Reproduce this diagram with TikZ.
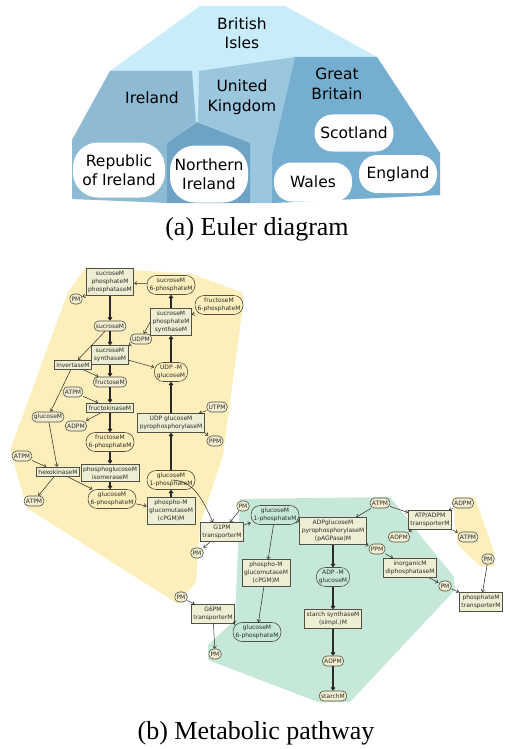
\documentclass[tikz,border=0pt]{standalone}
\usepackage{fontspec}
\setmainfont{Liberation Serif}
\newfontfamily\eulerfont{DejaVu Sans}
\newfontfamily\pathfont{DejaVu Sans}
\usepackage{tikz}
\usetikzlibrary{arrows.meta,calc}
\definecolor{isles}{RGB}{200,236,250}
\definecolor{ireland}{RGB}{143,186,212}
\definecolor{kingdom}{RGB}{155,199,222}
\definecolor{northirl}{RGB}{110,163,196}
\definecolor{britain}{RGB}{117,174,206}
\definecolor{cytosol}{RGB}{252,239,187}
\definecolor{plastid}{RGB}{198,232,216}
\definecolor{boxfill}{RGB}{238,238,212}
\definecolor{pillfill}{RGB}{243,238,210}
\definecolor{boxline}{RGB}{80,80,68}
\definecolor{flowline}{RGB}{40,40,40}
\definecolor{labeltext}{RGB}{45,45,40}
\tikzset{
  setbox/.style={fill=white, align=center, inner sep=0pt,
    font=\eulerfont\fontsize{15.5}{19.5}\selectfont},
  setlabel/.style={align=center, inner sep=0pt,
    font=\eulerfont\fontsize{15.5}{19.5}\selectfont},
  enzymebox/.style={draw=boxline, fill=boxfill, line width=0.75pt,
    inner xsep=2pt, inner ysep=2.5pt, align=center, text=labeltext,
    font=\pathfont\fontsize{6}{8}\selectfont},
  metabolite/.style={draw=boxline, line width=0.6pt, rounded corners=9pt,
    minimum height=19pt, inner xsep=2.5pt, inner ysep=2pt, align=center,
    text=labeltext, font=\pathfont\fontsize{6}{8}\selectfont},
  smallmet/.style={draw=boxline, fill=pillfill, line width=0.6pt,
    rounded corners=4.5pt, minimum height=10pt, minimum width=10.5pt,
    inner xsep=1.8pt, inner ysep=0.5pt, text=labeltext,
    font=\pathfont\fontsize{6}{8}\selectfont},
  mainflow/.style={-{Straight Barb[length=2.4pt,width=3.8pt]}, line width=1.1pt, draw=flowline},
  sideflow/.style={-{Straight Barb[length=2.4pt,width=3.8pt]}, line width=0.5pt, draw=flowline},
  caption/.style={font=\fontsize{26}{30}\selectfont}
}

\begin{document}
\begin{tikzpicture}[x=1pt,y=-1pt]
\useasboundingbox (0,0) rectangle (509,749);

% (a) Euler diagram
\fill[isles] (110,71) -- (200,6) -- (285,6) -- (377,57) -- (440,153) -- (440,195)
  -- (272,203) -- (72,199) -- (72,140) -- cycle;
\fill[ireland] (110,71) -- (192,71) -- (196,122) -- (167,143) -- (167,203)
  -- (72,199) -- (72,140) -- cycle;
\fill[kingdom] (199,71) -- (295,57) -- (272,157) -- (272,203) -- (250,203)
  -- (250,143) -- (198,122) -- cycle;
\fill[northirl] (197,122) -- (167,143) -- (167,203) -- (250,203) -- (250,143) -- cycle;
\fill[britain] (295,57) -- (377,57) -- (440,153) -- (440,195) -- (272,203)
  -- (272,157) -- cycle;

\node[setlabel] (isl) at (242,33) {British\\Isles};
\node[setlabel] (irl) at (152,98) {Ireland};
\node[setlabel] (uk) at (242,97) {United\\Kingdom};
\node[setlabel] (gb) at (337,84) {Great\\Britain};
\node[setbox, rounded corners=25pt, minimum width=92pt, minimum height=55pt] (roi) at (119,170) {Republic\\of Ireland};
\node[setbox, rounded corners=25pt, minimum width=78pt, minimum height=57pt] (ni) at (209,174) {Northern\\Ireland};
\node[setbox, rounded corners=18pt, minimum width=79pt, minimum height=37pt] (sco) at (354,133) {Scotland};
\node[setbox, rounded corners=18pt, minimum width=78pt, minimum height=39pt] (wal) at (313,182) {Wales};
\node[setbox, rounded corners=18pt, minimum width=78pt, minimum height=38pt] (eng) at (398,174) {England};
\node[caption] (capa) at (257,229) {(a) Euler diagram};

% (b) Metabolic pathway
\fill[cytosol] (86,267) -- (192,274) -- (243,293) -- (242,313) -- (223,455) -- (200,525)
  -- (196,582) -- (178,604) -- (27,508) -- (10,450) -- (68,292) -- cycle;
\fill[cytosol] (453,497) -- (475,497) -- (494,552) -- (494,566) -- (480,566)
  -- (458,545) -- (455,525) -- cycle;
\fill[plastid] (240,499) -- (390,497) -- (420,535) -- (454,577) -- (455,590)
  -- (350,702) -- (318,702) -- (208,660) -- (208,645) -- (235,620) -- cycle;

% cytosol
\node[enzymebox] (spp) at (110,282) {sucroseM\\phosphateM\\phosphataseM};
\node[smallmet] (pA) at (76,299) {PM};
\node[metabolite] (s6p) at (171,285) {sucroseM\\6-phosphateM};
\node[metabolite] (f6pa) at (219,305) {fructoseM\\6-phosphateM};
\node[enzymebox] (sps) at (171,322) {sucroseM\\phosphateM\\synthaseM};
\node[smallmet] (suc) at (110,326) {sucroseM};
\node[smallmet] (udp) at (141,339) {UDPM};
\node[enzymebox] (susy) at (110,355) {sucroseM\\synthaseM};
\node[enzymebox] (inv) at (73,365) {invertaseM};
\node[metabolite] (udpg) at (171,372) {UDP -M\\glucoseM};
\node[smallmet] (fru) at (110,382) {fructoseM};
\node[smallmet] (atpA) at (73,392) {ATPM};
\node[enzymebox] (fk) at (110,408) {fructokinaseM};
\node[smallmet] (glc) at (48,417) {glucoseM};
\node[smallmet] (adpA) at (76,426) {ADPM};
\node[smallmet] (utp) at (217,407) {UTPM};
\node[enzymebox] (ugp) at (171,423) {UDP glucoseM\\pyrophosphorylaseM};
\node[smallmet] (ppA) at (215,441) {PPM};
\node[metabolite] (f6p) at (110,442) {fructoseM\\6-phosphateM};
\node[smallmet] (atpB) at (22,456) {ATPM};
\node[enzymebox] (hk) at (58,472) {hexokinaseM};
\node[enzymebox] (pgi) at (110,473) {phosphoglucoseM\\isomeraseM};
\node[metabolite] (g1p) at (171,480) {glucoseM\\1-phosphateM};
\node[smallmet] (atpC) at (34,501) {ATPM};
\node[metabolite] (g6p) at (112,499) {glucoseM\\6-phosphateM};
\node[enzymebox] (pgm) at (171,511) {phospho-M\\glucomutaseM\\(cPGM)M};

% transporters
\node[enzymebox] (g1pT) at (222,532) {G1PM\\transporterM};
\node[smallmet] (pB) at (197,553) {PM};
\node[smallmet] (pC) at (181,597) {PM};
\node[smallmet] (pD) at (243,506) {PM};
\node[enzymebox] (g6pT) at (213,614) {G6PM\\transporterM};
\node[smallmet] (pG) at (215,654) {PM};
\node[enzymebox] (aatT) at (430,520) {ATP/ADPM\\transporterM};
\node[smallmet] (adpB) at (463,503) {ADPM};
\node[smallmet] (atpE) at (468,537) {ATPM};
\node[smallmet] (pE) at (488,559) {PM};
\node[enzymebox] (piT) at (481,602) {phosphateM\\transporterM};

% plastid
\node[metabolite] (g1pP) at (275,515) {glucoseM\\1-phosphateM};
\node[smallmet] (atpD) at (380,503) {ATPM};
\node[enzymebox] (agp) at (333,531) {ADPglucoseM\\pyrophosphorylaseM\\(pAGPase)M};
\node[smallmet] (adpC) at (399,537) {ADPM};
\node[smallmet] (ppB) at (377,549) {PPM};
\node[enzymebox] (pgmP) at (266,573) {phospho-M\\glucomutaseM\\(cPGM)M};
\node[metabolite] (adpg) at (333,577) {ADP -M\\glucoseM};
\node[enzymebox] (ipp) at (410,568) {inorganicM\\diphosphataseM};
\node[smallmet] (pF) at (445,586) {PM};
\node[metabolite] (g6pP) at (257,632) {glucoseM\\6-phosphateM};
\node[enzymebox] (ss) at (333,619) {starch synthaseM\\(simpl.)M};
\node[smallmet] (adpD) at (333,661) {ADPM};
\node[smallmet] (starch) at (333,696) {starchM};

% main chains
\draw[mainflow] (spp) -- (suc);
\draw[mainflow] (suc) -- (susy);
\draw[mainflow] (susy) -- (fru);
\draw[mainflow] (fru) -- (fk);
\draw[mainflow] (fk) -- (f6p);
\draw[mainflow] (f6p) -- (pgi);
\draw[mainflow] (pgi) -- (g6p.north -| pgi);
\draw[mainflow] (pgm) -- (g1p);
\draw[mainflow] (g1p) -- (ugp);
\draw[mainflow] (ugp) -- (udpg);
\draw[mainflow] (udpg) -- (sps);
\draw[mainflow] (sps) -- (s6p);
\draw[mainflow] (agp) -- (adpg);
\draw[mainflow] (adpg) -- (ss);
\draw[mainflow] (ss) -- (adpD);
\draw[mainflow] (adpD) -- (starch);

% side reactions
\draw[sideflow] (s6p) -- (spp);
\draw[sideflow] (spp.south west) -- (pA);
\draw[sideflow] (f6pa) -- (sps);
\draw[sideflow] (sps.west) -- (udp);
\draw[sideflow] (udp) -- (susy.north east);
\draw[sideflow] (susy) -- (udpg);
\draw[sideflow] (suc) -- (inv);
\draw[sideflow] (inv) -- (fru);
\draw[sideflow] (inv) -- (glc);
\draw[sideflow] (atpA) -- (fk);
\draw[sideflow] (fk) -- (adpA);
\draw[sideflow] (utp) -- (ugp);
\draw[sideflow] (ugp.south east) -- (ppA);
\draw[sideflow] (glc) -- (hk);
\draw[sideflow] (atpB) -- (hk);
\draw[sideflow] (hk) -- (atpC);
\draw[sideflow] (hk) -- (g6p);
\draw[sideflow] (g6p) -- (pgm);
\draw[sideflow] (g1p.center) to[out=0,in=115] ($(g1pT.north)+(-9,0)$);
\draw[sideflow] (pD) -- (g1pT);
\draw[sideflow] (g1pT) -- (pB);
\draw[sideflow] (g1pT) -- (g1pP);
\draw[sideflow] (g1pP) -- (pgmP);
\draw[sideflow] (g1pP) -- (agp);
\draw[sideflow] (atpD) -- (agp);
\draw[sideflow] (atpD) -- (aatT);
\draw[sideflow] (aatT) -- (adpC);
\draw[sideflow] (adpB) -- (aatT);
\draw[sideflow] (aatT) -- (atpE);
\draw[sideflow] (agp.south east) -- (ppB);
\draw[sideflow] (ppB) -- (ipp);
\draw[sideflow] (ipp) -- (pF);
\draw[sideflow] (pF) -- (piT);
\draw[sideflow] (pE) -- (piT);
\draw[sideflow] (pgmP) -- (g6pP);
\draw[sideflow] (pC) -- (g6pT);
\draw[sideflow] (g6pT) -- (g6pP);
\draw[sideflow] (g6pT) -- (pG);

\node[caption] (capb) at (256,733) {(b) Metabolic pathway};
\end{tikzpicture}
\end{document}
